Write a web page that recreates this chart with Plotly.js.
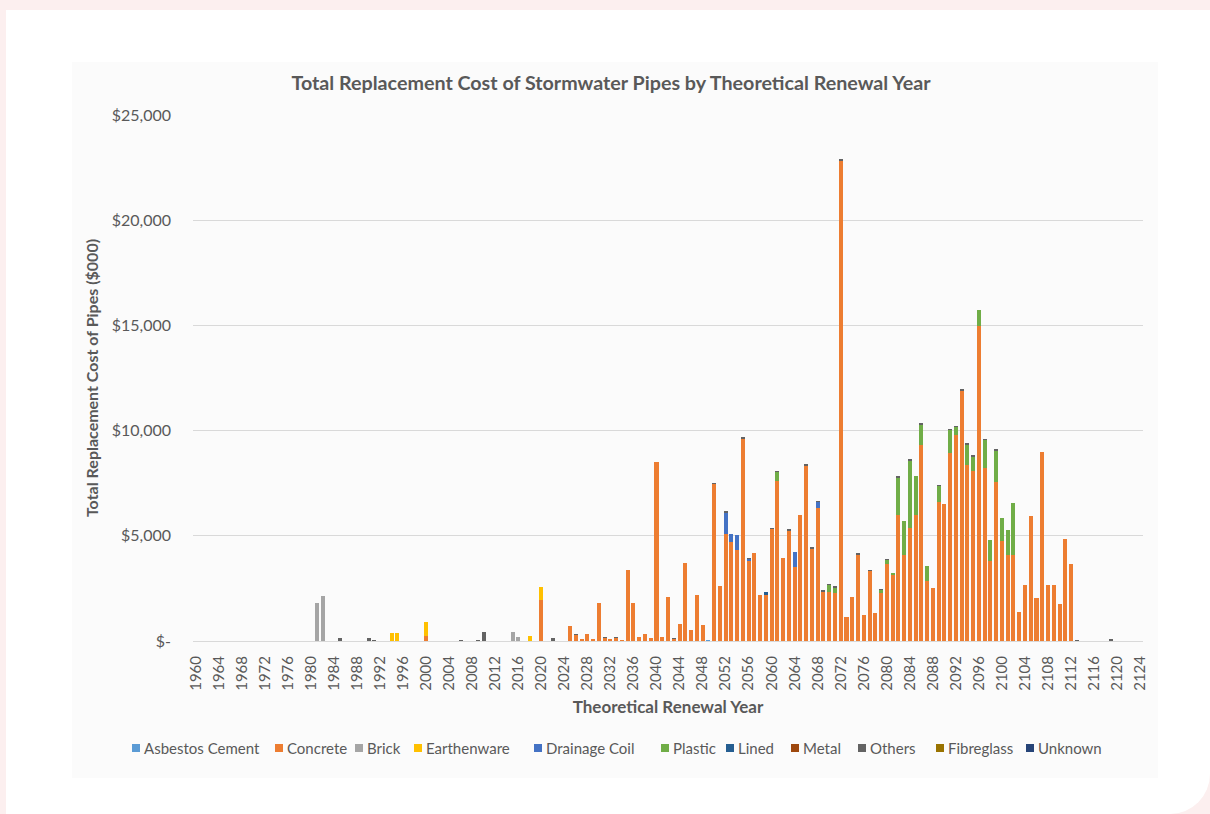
<!DOCTYPE html>
<html><head><meta charset="utf-8">
<script src="https://cdn.plot.ly/plotly-3.0.1.min.js"></script>
<style>
html,body{margin:0;padding:0;width:1210px;height:814px;overflow:hidden;background:#fcefef;}
#panel{position:absolute;left:6px;top:10px;width:1204px;height:804px;background:#ffffff;border-bottom-right-radius:40px;}
#area{position:absolute;left:72px;top:62px;width:1086px;height:716px;background:#fbfbfb;}
#chart{position:absolute;left:0;top:0;width:1210px;height:814px;}
</style></head><body>
<div id="panel"></div><div id="area"></div><div id="chart"></div>
<script>
// ---- data (values in $000) ----
const seriesNames = ["Asbestos Cement","Concrete","Brick","Earthenware","Drainage Coil","Plastic","Lined","Metal","Others","Fibreglass","Unknown"];
const seriesColors = ["#5B9BD5","#ED7D31","#A5A5A5","#FFC000","#4472C4","#70AD47","#255E91","#9E480E","#636363","#997300","#264478"];

const asbestosYears = [2049];
const asbestosValues = [50];

const concreteYears = [2000,2020,2025,2026,2027,2028,2029,2030,2031,2032,2033,2034,2035,2036,2037,2038,2039,2040,2041,2042,2043,2044,2045,2046,2047,2048,
  2050,2051,2052,2053,2054,2055,2056,2057,2058,2059,2060,2061,2062,2063,2064,2065,2066,2067,2068,2069,2070,2071,2072,2073,2074,2075,2076,2077,2078,2079,
  2080,2081,2082,2083,2084,2085,2086,2087,2088,2089,2090,2091,2092,2093,2094,2095,2096,2097,2098,2099,2100,2101,2102,2103,2104,2105,2106,2107,2108,2109,
  2110,2111,2112];
const concreteValues = [250,1950,700,280,100,310,100,1820,130,90,150,60,3380,1800,200,320,120,8500,200,2080,90,820,3700,540,2180,780,
  7450,2620,5100,4700,4320,9600,3800,4200,2180,2200,5300,7600,3950,5250,3530,6000,8330,4380,6300,2350,2330,2300,22800,1150,2080,4080,1220,3320,1340,2300,
  3680,3130,6000,4100,5360,6000,9300,2850,2500,6620,6500,8930,9800,11900,8370,8060,14950,8200,3800,7580,4750,4100,4100,1390,2650,5920,2050,9000,2650,2650,
  1740,4860,3650];

const brickYears = [1981,1982,2015,2016];
const brickValues = [1820,2140,420,180];

const earthenwareYears = [1994,1995,2000,2018,2020];
const earthenwareValues = [360,390,670,260,630];

const drainageYears = [2052,2053,2054,2056,2064,2068];
const drainageValues = [1000,400,700,100,700,300];

const plasticYears = [2061,2070,2071,2079,2080,2081,2082,2083,2084,2085,2086,2087,2089,2091,2092,2094,2095,2096,2097,2098,2099,2100,2101,2102];
const plasticValues = [420,330,240,120,150,100,1750,1600,3200,1850,980,720,730,1100,350,940,700,780,1340,1000,1450,1100,1180,2470];

const linedYears = [2059];
const linedValues = [120];

const metalYears = [];
const metalValues = [];

const othersYears = [1985,1990,1991,2006,2009,2010,2022,2026,2031,2033,2039,2043,2050,2052,2055,2056,2060,2061,2063,2066,2067,2068,2069,2070,2071,2072,
  2075,2077,2079,2080,2082,2084,2086,2089,2091,2092,2093,2094,2095,2097,2099,2113,2119];
const othersValues = [120,150,60,60,60,420,150,40,40,40,40,60,80,80,80,60,80,80,80,80,80,60,70,70,70,110,
  80,70,70,70,80,80,80,70,70,70,80,80,60,80,80,50,90];

const fibreglassYears = [];
const fibreglassValues = [];

const unknownYears = [];
const unknownValues = [];

const tickYears = [1960,1964,1968,1972,1976,1980,1984,1988,1992,1996,2000,2004,2008,2012,2016,2020,2024,2028,2032,2036,2040,2044,2048,2052,2056,2060,
  2064,2068,2072,2076,2080,2084,2088,2092,2096,2100,2104,2108,2112,2116,2120,2124];
const yTickValues = [0,5000,10000,15000,20000,25000];
const yTickLabels = ["$-","$5,000","$10,000","$15,000","$20,000","$25,000"];

// ---- build ----
const seriesData = [
  [asbestosYears, asbestosValues],[concreteYears, concreteValues],[brickYears, brickValues],[earthenwareYears, earthenwareValues],
  [drainageYears, drainageValues],[plasticYears, plasticValues],[linedYears, linedValues],[metalYears, metalValues],
  [othersYears, othersValues],[fibreglassYears, fibreglassValues],[unknownYears, unknownValues]
];
const FONT = "Lato, 'Open Sans', sans-serif";
const TXT = "#595959";
const traces = seriesData.map((d, i) => ({
  type: "bar", name: seriesNames[i], x: d[0], y: d[1],
  marker: {color: seriesColors[i], line: {width: 0}}, showlegend: false
}));

// plot geometry (px)
const L = 193, T = 115, W = 950, H = 526;
const px2x = p => (p - L) / W;
const py2y = p => (T + H - p) / H;

const legendX = [132, 275, 355, 414, 534, 661, 726, 791, 858, 936, 1026];
const legendY = 748;
const shapes = [], annotations = [];
seriesNames.forEach((n, i) => {
  shapes.push({type: "rect", xref: "paper", yref: "paper",
    x0: px2x(legendX[i]), x1: px2x(legendX[i] + 8), y0: py2y(legendY + 4), y1: py2y(legendY - 4),
    fillcolor: seriesColors[i], line: {width: 0}});
  annotations.push({xref: "paper", yref: "paper", x: px2x(legendX[i] + 10), y: py2y(legendY),
    xanchor: "left", yanchor: "middle", showarrow: false, text: n,
    font: {family: FONT, size: 15, color: TXT}});
});

const layout = {
  width: 1210, height: 814,
  margin: {l: L, r: 1210 - L - W, t: T, b: 814 - T - H},
  paper_bgcolor: "rgba(0,0,0,0)", plot_bgcolor: "rgba(0,0,0,0)",
  barmode: "stack", bargap: 0.3,
  font: {family: FONT, color: TXT},
  title: {text: "<b>Total Replacement Cost of Stormwater Pipes by Theoretical Renewal Year</b>",
    font: {family: FONT, size: 19.7, color: TXT}, x: 0.505, xref: "container", xanchor: "center",
    y: 1 - 83/814, yref: "container", yanchor: "middle"},
  xaxis: {type: "linear", range: [1959.5, 2124.5], tickmode: "array", tickvals: tickYears,
    ticktext: tickYears.map(String), tickangle: -90, ticks: "", showgrid: false, zeroline: false,
    showline: true, linecolor: "#d9d9d9", linewidth: 1, ticklabelstandoff: 8,
    tickfont: {family: FONT, size: 15, color: TXT},
    title: {text: "<b>Theoretical Renewal Year</b>", font: {family: FONT, size: 17, color: TXT}, standoff: 11}},
  yaxis: {range: [0, 25000], tickmode: "array", tickvals: yTickValues, ticktext: yTickLabels,
    showgrid: true, gridcolor: "#d9d9d9", gridwidth: 1, zeroline: false, ticks: "", ticklabelstandoff: 21,
    tickfont: {family: FONT, size: 16, color: TXT},
    title: {text: "<b>Total Replacement Cost of Pipes ($000)</b>", font: {family: FONT, size: 16, color: TXT}, standoff: 9}},
  shapes: shapes, annotations: annotations
};
Plotly.newPlot("chart", traces, layout, {displayModeBar: false, staticPlot: true});
</script></body></html>
